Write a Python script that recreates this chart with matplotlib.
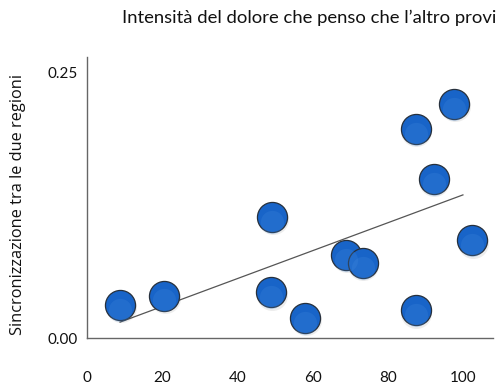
import matplotlib
matplotlib.use("Agg")
import matplotlib.pyplot as plt
import numpy as np

# dati
dolore = [8.8, 20.6, 49.2, 48.9, 58.0, 69.0, 73.3, 87.4, 87.4, 92.2, 97.6, 102.4]
sincro = [0.031, 0.040, 0.114, 0.043, 0.019, 0.078, 0.071, 0.197, 0.026, 0.150, 0.221, 0.092]
trend_x = [8.8, 100.0]
trend_y = [0.015, 0.135]
x_ticks = [0, 20, 40, 60, 80, 100]
y_ticks = [0.0, 0.25]
y_labels = ["0.00", "0.25"]


def main():
  fig = plt.figure(figsize=(5.0, 3.91), dpi=100)
  ax = fig.add_axes([0.174, 0.1355, 0.812, 0.7185])

  ax.plot(trend_x, trend_y, color="#555555", lw=0.9, zorder=2)

  # ombra leggera sotto i punti
  ax.scatter(dolore, sincro, s=500, color="#000000", alpha=0.07,
             linewidths=0, zorder=3,
             transform=ax.transData + matplotlib.transforms.ScaledTranslation(0.5/72, -1.5/72, fig.dpi_scale_trans))
  ax.scatter(dolore, sincro, s=470, color="#1864c8", edgecolors="#27303c",
             linewidths=0.9, zorder=4)
  ax.scatter(dolore, sincro, s=280, color="#4a8fe0", alpha=0.22,
             linewidths=0, zorder=5,
             transform=ax.transData + matplotlib.transforms.ScaledTranslation(0, -3.5/72, fig.dpi_scale_trans))

  ax.set_xlim(0, 108)
  ax.set_ylim(0, 0.265)
  ax.set_xticks(x_ticks)
  ax.set_yticks(y_ticks)
  ax.set_yticklabels(y_labels)
  ax.tick_params(axis="both", length=0, labelsize=11, colors="#111111")
  ax.tick_params(axis="x", pad=24)
  ax.tick_params(axis="y", pad=7)
  for lab in ax.get_xticklabels() + ax.get_yticklabels():
    lab.set_family("Lato")

  for side in ["top", "right"]:
    ax.spines[side].set_visible(False)
  for side in ["left", "bottom"]:
    ax.spines[side].set_color("#666666")
    ax.spines[side].set_linewidth(1.0)

  fig.text(0.619, 0.955, "Intensità del dolore che penso che l\u2019altro provi",
           ha="center", va="center", fontsize=13.3, family="Lato", color="#111111")
  fig.text(0.036, 0.478, "Sincronizzazione tra le due regioni", rotation=90,
           ha="center", va="center", fontsize=11.8, family="Open Sans", color="#111111")

  fig.savefig("out.png", dpi=100)


if __name__ == "__main__":
  main()
